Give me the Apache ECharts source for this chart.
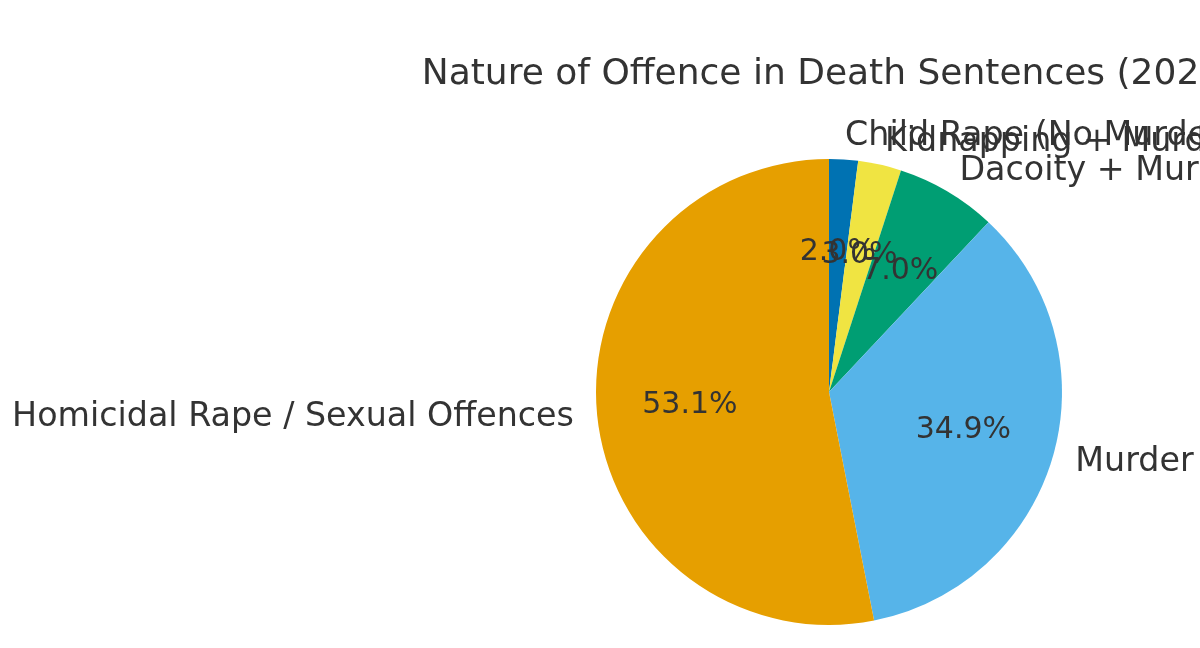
<!DOCTYPE html>
<html>
<head>
<meta charset="utf-8">
<script src="https://cdn.jsdelivr.net/npm/echarts@6/dist/echarts.min.js"></script>
<style>
  html, body { margin: 0; padding: 0; background: #fff; }
  #chart { width: 1200px; height: 648px; }
</style>
</head>
<body>
<div id="chart"></div>
<script>
// slices, clockwise from 12 o'clock
var offences = ['Child Rape (No Murder)', 'Kidnapping + Murder', 'Dacoity + Murder', 'Murder', 'Homicidal Rape / Sexual Offences'];
var shares = [2.0, 3.0, 7.0, 34.9, 53.1];
var colors = ['#0072B2', '#F0E442', '#009E73', '#56B4E9', '#E69F00'];
var title = 'Nature of Offence in Death Sentences (2023)';

var cx = 829, cy = 392, R = 233;
var font = 'DejaVu Sans';

var pieData = offences.map(function (name, i) {
  return { name: name, value: shares[i], itemStyle: { color: colors[i] } };
});

var chart = echarts.init(document.getElementById('chart'));
chart.setOption({
  animation: false,
  graphic: [
    {
      type: 'text',
      x: cx,
      y: 75,
      style: {
        text: title,
        fontFamily: font,
        fontSize: 36,
        fill: '#333333',
        align: 'center',
        verticalAlign: 'middle'
      }
    }
  ],
  series: [
    {
      type: 'pie',
      center: [cx, cy],
      radius: R,
      startAngle: 90,
      clockwise: true,
      avoidLabelOverlap: false,
      silent: true,
      emphasis: { disabled: true },
      itemStyle: { borderWidth: 0 },
      labelLayout: { hideOverlap: false },
      label: {
        show: true,
        position: 'outside',
        formatter: '{b}',
        fontFamily: font,
        fontSize: 33.3,
        color: '#333333',
        distanceToLabelLine: 0
      },
      labelLine: { show: false, length: R * 0.1, length2: 0 },
      data: pieData
    },
    {
      // invisible ring only used to place the percent labels at 0.6R
      type: 'pie',
      center: [cx, cy],
      radius: [R * 0.2 - 6, R],
      startAngle: 90,
      clockwise: true,
      avoidLabelOverlap: false,
      silent: true,
      emphasis: { disabled: true },
      itemStyle: { color: 'rgba(0,0,0,0)', borderWidth: 0 },
      labelLayout: { hideOverlap: false },
      label: {
        show: true,
        position: 'inside',
        formatter: function (p) { return p.percent.toFixed(1) + '%'; },
        fontFamily: font,
        fontSize: 30,
        color: '#333333'
      },
      labelLine: { show: false },
      data: offences.map(function (name, i) { return { name: name, value: shares[i] }; })
    }
  ]
});
</script>
</body>
</html>
